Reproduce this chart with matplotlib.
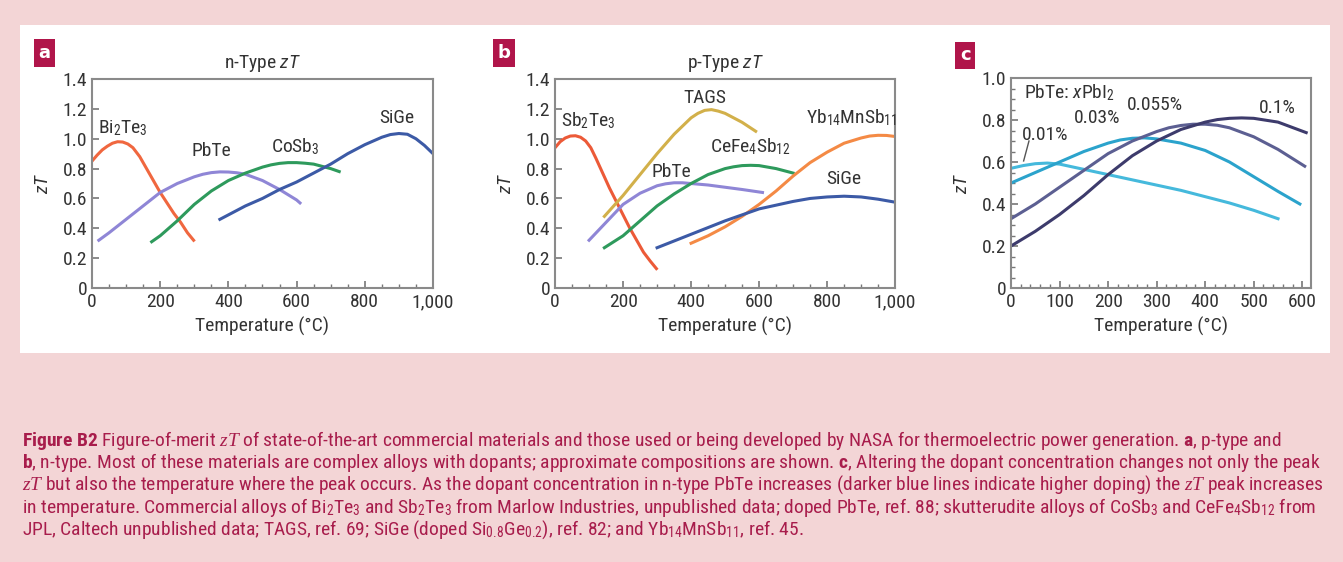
import matplotlib
matplotlib.use("Agg")
import matplotlib.pyplot as plt
from matplotlib import font_manager
from matplotlib.ticker import MultipleLocator, FuncFormatter
from matplotlib.patches import Rectangle

# --- panel a : n-type zT ---
a_bi2te3_t = [0, 15, 30, 45, 60, 75, 90, 105, 120, 140, 160, 180, 200, 220, 240, 260, 280, 298]
a_bi2te3_z = [0.85, 0.89, 0.925, 0.95, 0.97, 0.98, 0.978, 0.965, 0.94, 0.88, 0.80, 0.72, 0.64, 0.57, 0.50, 0.44, 0.37, 0.32]
a_pbte_t = [20, 50, 100, 150, 200, 250, 300, 325, 350, 375, 400, 425, 450, 500, 550, 600, 610]
a_pbte_z = [0.32, 0.37, 0.46, 0.55, 0.64, 0.70, 0.745, 0.762, 0.773, 0.778, 0.777, 0.772, 0.762, 0.72, 0.66, 0.59, 0.57]
a_cosb3_t = [175, 200, 250, 300, 350, 400, 450, 500, 525, 550, 575, 600, 625, 650, 700, 725]
a_cosb3_z = [0.31, 0.35, 0.45, 0.56, 0.65, 0.72, 0.77, 0.81, 0.825, 0.835, 0.84, 0.84, 0.836, 0.83, 0.80, 0.78]
a_sige_t = [375, 450, 500, 550, 600, 650, 700, 750, 800, 850, 875, 900, 925, 950, 975, 1000]
a_sige_z = [0.46, 0.55, 0.60, 0.66, 0.71, 0.77, 0.83, 0.90, 0.96, 1.01, 1.028, 1.035, 1.03, 1.00, 0.955, 0.90]

# --- panel b : p-type zT ---
b_sb2te3_t = [0, 15, 30, 45, 60, 75, 90, 105, 120, 140, 160, 180, 200, 220, 240, 260, 280, 298]
b_sb2te3_z = [0.94, 0.98, 1.005, 1.018, 1.02, 1.01, 0.985, 0.94, 0.87, 0.77, 0.67, 0.58, 0.49, 0.40, 0.32, 0.24, 0.18, 0.13]
b_tags_t = [145, 200, 250, 300, 350, 400, 420, 440, 460, 480, 500, 550, 590]
b_tags_z = [0.48, 0.62, 0.76, 0.90, 1.03, 1.14, 1.17, 1.19, 1.195, 1.185, 1.17, 1.11, 1.05]
b_pbte_t = [100, 150, 200, 250, 300, 325, 350, 375, 400, 450, 500, 550, 610]
b_pbte_z = [0.32, 0.44, 0.56, 0.635, 0.685, 0.698, 0.705, 0.705, 0.70, 0.69, 0.675, 0.66, 0.64]
b_cefe_t = [145, 200, 250, 300, 350, 400, 450, 500, 525, 550, 575, 600, 650, 700]
b_cefe_z = [0.27, 0.35, 0.45, 0.55, 0.63, 0.70, 0.76, 0.80, 0.812, 0.82, 0.822, 0.82, 0.80, 0.77]
b_yb_t = [400, 450, 500, 550, 600, 650, 700, 750, 800, 850, 900, 925, 950, 975, 1000]
b_yb_z = [0.30, 0.35, 0.41, 0.48, 0.56, 0.65, 0.75, 0.84, 0.91, 0.97, 1.005, 1.018, 1.023, 1.022, 1.015]
b_sige_t = [300, 400, 500, 600, 700, 750, 800, 850, 900, 950, 1000]
b_sige_z = [0.27, 0.36, 0.45, 0.53, 0.58, 0.60, 0.61, 0.615, 0.61, 0.595, 0.575]

# --- panel c : PbTe:xPbI2 ---
c_001_t = [0, 25, 50, 75, 100, 150, 200, 250, 300, 350, 400, 450, 500, 550]
c_001_z = [0.57, 0.583, 0.592, 0.595, 0.59, 0.565, 0.54, 0.515, 0.49, 0.465, 0.435, 0.405, 0.37, 0.33]
c_003_t = [0, 50, 100, 150, 200, 225, 250, 275, 300, 350, 400, 450, 500, 550, 595]
c_003_z = [0.50, 0.55, 0.60, 0.65, 0.69, 0.705, 0.713, 0.715, 0.71, 0.69, 0.655, 0.60, 0.53, 0.46, 0.40]
c_0055_t = [0, 50, 100, 150, 200, 250, 300, 325, 350, 375, 400, 425, 450, 500, 550, 605]
c_0055_z = [0.33, 0.40, 0.48, 0.56, 0.64, 0.70, 0.745, 0.763, 0.774, 0.78, 0.78, 0.775, 0.763, 0.72, 0.66, 0.58]
c_01_t = [0, 50, 100, 150, 200, 250, 300, 350, 400, 425, 450, 475, 500, 550, 608]
c_01_z = [0.20, 0.27, 0.35, 0.44, 0.54, 0.63, 0.70, 0.755, 0.79, 0.802, 0.808, 0.81, 0.808, 0.79, 0.74]

caption_lines = [
    r"$\mathbf{Figure\ B2}$ Figure-of-merit $\mathit{zT}$ of state-of-the-art commercial materials and those used or being developed by NASA for thermoelectric power generation. $\mathbf{a}$, p-type and",
    r"$\mathbf{b}$, n-type. Most of these materials are complex alloys with dopants; approximate compositions are shown. $\mathbf{c}$, Altering the dopant concentration changes not only the peak",
    r"$\mathit{zT}$ but also the temperature where the peak occurs. As the dopant concentration in n-type PbTe increases (darker blue lines indicate higher doping) the $\mathit{zT}$ peak increases",
    r"in temperature. Commercial alloys of Bi$_2$Te$_3$ and Sb$_2$Te$_3$ from Marlow Industries, unpublished data; doped PbTe, ref. 88; skutterudite alloys of CoSb$_3$ and CeFe$_4$Sb$_{12}$ from",
    r"JPL, Caltech unpublished data; TAGS, ref. 69; SiGe (doped Si$_{0.8}$Ge$_{0.2}$), ref. 82; and Yb$_{14}$MnSb$_{11}$, ref. 45.",
]

# condensed sans if present, Liberation Sans otherwise
names = {f.name for f in font_manager.fontManager.ttflist}
narrow = next((n for n in ["Roboto Condensed", "Archivo Narrow", "PT Sans Narrow", "Liberation Sans"] if n in names),
              "DejaVu Sans")
serif = "Liberation Serif" if "Liberation Serif" in names else "DejaVu Serif"

plt.rcParams["font.family"] = [narrow, "DejaVu Sans"]
plt.rcParams["mathtext.fontset"] = "custom"
plt.rcParams["mathtext.rm"] = narrow
plt.rcParams["mathtext.bf"] = narrow + ":bold"
plt.rcParams["mathtext.it"] = serif + ":italic"
plt.rcParams["mathtext.sf"] = narrow + ":italic"

TXT = "#333333"
CAP = "#a81d4c"
PINK = "#f3d5d6"

fig = plt.figure(figsize=(13.43, 5.62), dpi=100)
fig.patch.set_facecolor(PINK)
fig.patches.append(Rectangle((0.0149, 0.372), 0.9754, 0.5836, transform=fig.transFigure,
                             facecolor="white", edgecolor="none", zorder=-5))


def style_axes(ax, xmax, ymax, xmaj, xmin, ymin_step):
    ax.set_xlim(0, xmax)
    ax.set_ylim(0, ymax)
    ax.xaxis.set_major_locator(MultipleLocator(xmaj))
    ax.xaxis.set_minor_locator(MultipleLocator(xmin))
    ax.yaxis.set_major_locator(MultipleLocator(0.2))
    if ymin_step:
        ax.yaxis.set_minor_locator(MultipleLocator(ymin_step))
    ax.xaxis.set_major_formatter(FuncFormatter(lambda v, p: f"{int(round(v)):,}"))
    ax.yaxis.set_major_formatter(FuncFormatter(lambda v, p: "0" if abs(v) < 1e-9 else f"{v:.1f}"))
    ax.tick_params(which="both", direction="in", colors="#777777", labelcolor=TXT, labelsize=14)
    ax.tick_params(which="major", length=5, width=1.2)
    ax.tick_params(which="minor", length=3, width=1.0)
    for s in ax.spines.values():
        s.set_color("#8a8a8a")
        s.set_linewidth(1.5)
    ax.set_xlabel("Temperature (°C)", fontsize=14, color=TXT, labelpad=4)
    ax.set_ylabel(r"$\mathsf{zT}$", fontsize=14, color=TXT, labelpad=8)


def panel_tag(x, y, letter):
    fig.text(x, y, letter, fontsize=13, fontweight="bold", color="white", ha="center", va="center",
             family="DejaVu Sans",
             bbox=dict(boxstyle="square,pad=0.25", facecolor="#b0154a", edgecolor="none"))


lw = 2.2

# panel a
ax1 = fig.add_axes([0.0685, 0.4875, 0.2539, 0.3719])
ax1.plot(a_bi2te3_t, a_bi2te3_z, color="#f0673f", lw=lw)
ax1.plot(a_pbte_t, a_pbte_z, color="#8f86d6", lw=lw)
ax1.plot(a_cosb3_t, a_cosb3_z, color="#2e9a5c", lw=lw)
ax1.plot(a_sige_t, a_sige_z, color="#3c5aa6", lw=lw)
style_axes(ax1, 1000, 1.4, 200, 50, None)
ax1.set_title(r"n-Type $\mathsf{zT}$", fontsize=14, color=TXT, pad=8)
for t, z, s in [(90, 1.07, r"Bi$_2$Te$_3$"), (350, 0.92, "PbTe"), (595, 0.95, r"CoSb$_3$"), (893, 1.14, "SiGe")]:
    ax1.text(t, z, s, fontsize=14, color=TXT, ha="center", va="center")

# panel b
ax2 = fig.add_axes([0.4133, 0.4875, 0.2532, 0.3719])
ax2.plot(b_sb2te3_t, b_sb2te3_z, color="#ec5a38", lw=lw)
ax2.plot(b_tags_t, b_tags_z, color="#d2b04a", lw=lw)
ax2.plot(b_pbte_t, b_pbte_z, color="#8f86d6", lw=lw)
ax2.plot(b_cefe_t, b_cefe_z, color="#2e9a5c", lw=lw)
ax2.plot(b_yb_t, b_yb_z, color="#f48a45", lw=lw)
ax2.plot(b_sige_t, b_sige_z, color="#3c5aa6", lw=lw)
style_axes(ax2, 1000, 1.4, 200, 50, None)
ax2.set_title(r"p-Type $\mathsf{zT}$", fontsize=14, color=TXT, pad=8)
for t, z, s in [(96, 1.12, r"Sb$_2$Te$_3$"), (440, 1.27, "TAGS"), (872, 1.14, r"Yb$_{14}$MnSb$_{11}$"),
                (573, 0.95, r"CeFe$_4$Sb$_{12}$"), (342, 0.78, "PbTe"), (848, 0.73, "SiGe")]:
    ax2.text(t, z, s, fontsize=14, color=TXT, ha="center", va="center")

# panel c
ax3 = fig.add_axes([0.7528, 0.4875, 0.2234, 0.3737])
ax3.plot(c_001_t, c_001_z, color="#45b9dc", lw=lw)
ax3.plot(c_003_t, c_003_z, color="#2ba3cc", lw=lw)
ax3.plot(c_0055_t, c_0055_z, color="#5c5f92", lw=lw)
ax3.plot(c_01_t, c_01_z, color="#3d3b6c", lw=lw)
style_axes(ax3, 618, 1.0, 100, 20, 0.05)
ax3.text(26, 0.93, r"PbTe: $\mathsf{x}$PbI$_2$", fontsize=14, color=TXT, ha="left", va="center")
ax3.text(23, 0.73, "0.01%", fontsize=14, color=TXT, ha="left", va="center")
ax3.text(178, 0.81, "0.03%", fontsize=14, color=TXT, ha="center", va="center")
ax3.text(296, 0.87, "0.055%", fontsize=14, color=TXT, ha="center", va="center")
ax3.text(548, 0.857, "0.1%", fontsize=14, color=TXT, ha="center", va="center")
ax3.plot([37, 26], [0.70, 0.605], color="#555555", lw=1.0)

panel_tag(0.0331, 0.9057, "a")
panel_tag(0.3753, 0.9057, "b")
panel_tag(0.7186, 0.9021, "c")

# caption
for i, line in enumerate(caption_lines):
    fig.text(0.0164, 1 - (440 + 22.5 * i) / 562, line, fontsize=14, color=CAP, ha="left", va="center")

fig.savefig("out.png", dpi=100, facecolor=fig.get_facecolor())
